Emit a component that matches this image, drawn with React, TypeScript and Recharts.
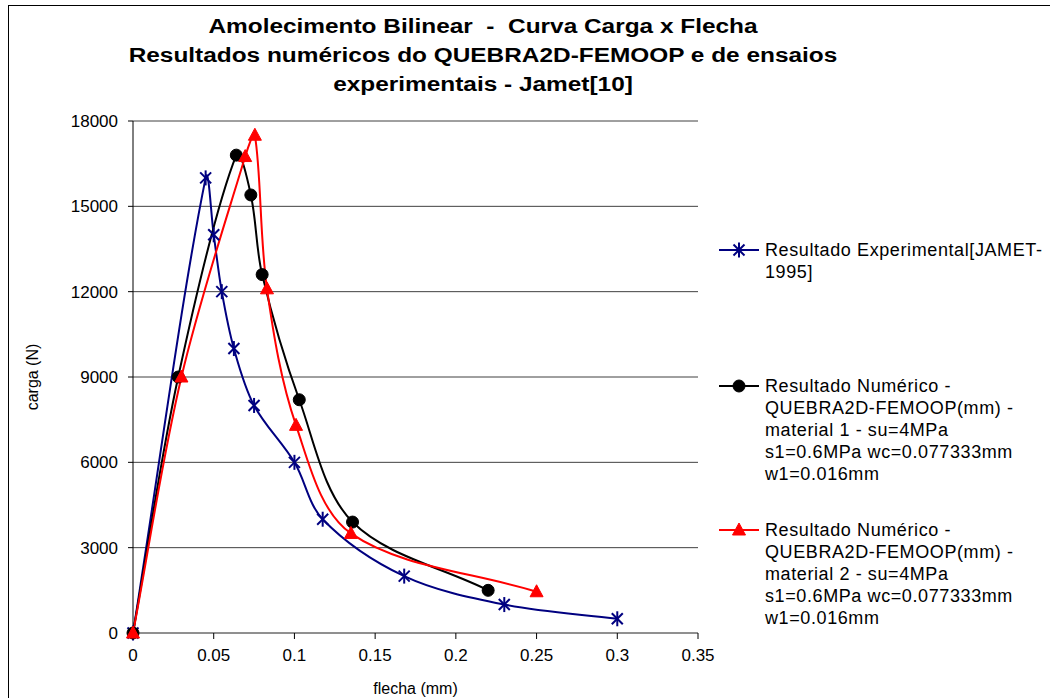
import React from 'react';
import { CartesianGrid, Legend, Line, LineChart, XAxis, YAxis } from 'recharts';

// Title lines and axis titles
const titleLines = [
  'Amolecimento Bilinear  -  Curva Carga x Flecha',
  'Resultados numéricos do QUEBRA2D-FEMOOP e de ensaios',
  'experimentais - Jamet[10]',
];
const xAxisTitle = 'flecha (mm)';
const yAxisTitle = 'carga (N)';

// Tick values
const xTicks = [0, 0.05, 0.1, 0.15, 0.2, 0.25, 0.3, 0.35];
const yTicks = [0, 3000, 6000, 9000, 12000, 15000, 18000];

// Experimental result (JAMET 1995)
const expFlecha = [0, 0.045, 0.05, 0.055, 0.0625, 0.075, 0.1, 0.1175, 0.168, 0.23, 0.3];
const expCarga = [0, 16000, 14000, 12000, 10000, 8000, 6000, 4000, 2000, 1000, 500];

// Numerical result - material 1
const mat1Flecha = [0, 0.028, 0.064, 0.073, 0.08, 0.103, 0.136, 0.22];
const mat1Carga = [0, 9000, 16800, 15400, 12600, 8200, 3900, 1500];

// Numerical result - material 2
const mat2Flecha = [0, 0.03, 0.0695, 0.0755, 0.083, 0.101, 0.135, 0.25];
const mat2Carga = [0, 9000, 16750, 17500, 12100, 7300, 3500, 1450];

// Legend labels (line breaks as in the original)
const expLabel = ['Resultado Experimental[JAMET-', '1995]'];
const mat1Label = [
  'Resultado Numérico -',
  'QUEBRA2D-FEMOOP(mm) -',
  'material 1 - su=4MPa',
  's1=0.6MPa wc=0.077333mm',
  'w1=0.016mm',
];
const mat2Label = [
  'Resultado Numérico -',
  'QUEBRA2D-FEMOOP(mm) -',
  'material 2 - su=4MPa',
  's1=0.6MPa wc=0.077333mm',
  'w1=0.016mm',
];

const toPoints = (xs: number[], ys: number[]) => xs.map((x, i) => ({ x, y: ys[i] }));

// Excel-like smoothed line: bezier segments, tangents weighted by segment length
function excelSmooth(context: any) {
  let pts: number[][] = [];
  const dist = (a: number[], b: number[]) => Math.hypot(b[0] - a[0], b[1] - a[1]);
  return {
    areaStart() {},
    areaEnd() {},
    lineStart() {
      pts = [];
    },
    point(x: number, y: number) {
      pts.push([+x, +y]);
    },
    lineEnd() {
      if (!pts.length) return;
      context.moveTo(pts[0][0], pts[0][1]);
      for (let i = 0; i < pts.length - 1; i++) {
        const p0 = pts[i - 1] || pts[i];
        const p1 = pts[i];
        const p2 = pts[i + 1];
        const p3 = pts[i + 2] || p2;
        const d01 = dist(p0, p1);
        const d12 = dist(p1, p2);
        const d23 = dist(p2, p3);
        const s1 = d12 / (d01 + d12 || 1) / 3;
        const s2 = d12 / (d12 + d23 || 1) / 3;
        const c1x = p1[0] + (p2[0] - p0[0]) * s1;
        const c1y = p1[1] + (p2[1] - p0[1]) * s1;
        const c2x = p2[0] - (p3[0] - p1[0]) * s2;
        const c2y = p2[1] - (p3[1] - p1[1]) * s2;
        context.bezierCurveTo(c1x, c1y, c2x, c2y, p2[0], p2[1]);
      }
    },
  };
}

type MarkerKind = 'star' | 'circle' | 'triangle';

function Marker({ kind, cx, cy, color }: { kind: MarkerKind; cx: number; cy: number; color: string }) {
  if (kind === 'star') {
    return (
      <g stroke={color} strokeWidth={2}>
        <line x1={cx - 5.5} y1={cy - 5.5} x2={cx + 5.5} y2={cy + 5.5} />
        <line x1={cx - 5.5} y1={cy + 5.5} x2={cx + 5.5} y2={cy - 5.5} />
        <line x1={cx} y1={cy - 7.5} x2={cx} y2={cy + 7.5} />
      </g>
    );
  }
  if (kind === 'circle') {
    return <circle cx={cx} cy={cy} r={6} fill={color} stroke={color} />;
  }
  return (
    <polygon
      points={`${cx},${cy - 7} ${cx - 6.5},${cy + 5} ${cx + 6.5},${cy + 5}`}
      fill={color}
      stroke={color}
    />
  );
}

const makeDot = (kind: MarkerKind, color: string) => (props: any) => (
  <Marker key={`${kind}-${props.index}`} kind={kind} cx={props.cx} cy={props.cy} color={color} />
);

const series = [
  { id: 'exp', data: toPoints(expFlecha, expCarga), color: '#000080', marker: 'star' as MarkerKind, label: expLabel, top: 239 },
  { id: 'mat1', data: toPoints(mat1Flecha, mat1Carga), color: '#000000', marker: 'circle' as MarkerKind, label: mat1Label, top: 375 },
  { id: 'mat2', data: toPoints(mat2Flecha, mat2Carga), color: '#ff0000', marker: 'triangle' as MarkerKind, label: mat2Label, top: 519 },
];

const FONT = '"Liberation Sans", Arial, sans-serif';

function LegendBox() {
  return (
    <div style={{ position: 'relative', width: 1050, height: 698, fontFamily: FONT }}>
      {series.map((s) => (
        <div key={s.id} style={{ position: 'absolute', left: 715, top: s.top }}>
          <svg width={48} height={22} style={{ position: 'absolute', left: 0, top: 0 }}>
            <line x1={4} y1={11} x2={44} y2={11} stroke={s.color} strokeWidth={2} />
            <Marker kind={s.marker} cx={24} cy={11} color={s.color} />
          </svg>
          <div
            style={{
              position: 'absolute',
              left: 50,
              top: 0,
              fontSize: 18,
              lineHeight: '22px',
              whiteSpace: 'pre',
              color: '#000',
              letterSpacing: 0.6,
            }}
          >
            {s.label.join('\n')}
          </div>
        </div>
      ))}
    </div>
  );
}

export default function App() {
  return (
    <div
      style={{
        position: 'fixed',
        left: 0,
        top: 0,
        width: 1050,
        height: 698,
        overflow: 'hidden',
        background: '#fff',
        fontFamily: FONT,
      }}
    >
      {/* chart area frame */}
      <div style={{ position: 'absolute', left: 8, top: 5, width: 1100, height: 800, border: '1px solid #000' }} />

      <div style={{ position: 'absolute', left: 0, top: 12, width: 966, textAlign: 'center' }}>
        {titleLines.map((t) => (
          <div
            key={t}
            style={{
              fontSize: 20,
              fontWeight: 'bold',
              lineHeight: '29px',
              whiteSpace: 'pre',
              transform: 'scaleX(1.22)',
            }}
          >
            {t}
          </div>
        ))}
      </div>

      <LineChart
        width={1050}
        height={698}
        margin={{ top: 121, right: 352, bottom: 0, left: 0 }}
        style={{ position: 'absolute', left: 0, top: 0 }}
      >
        <CartesianGrid horizontal vertical={false} stroke="#404040" />
        <XAxis
          type="number"
          dataKey="x"
          domain={[0, 0.35]}
          ticks={xTicks}
          interval={0}
          height={65}
          axisLine={{ stroke: '#808080' }}
          tickLine={{ stroke: '#000' }}
          tickSize={6}
          tickMargin={10}
          tick={{ fill: '#000', fontSize: 17, fontFamily: FONT }}
          label={{ value: xAxisTitle, position: 'insideBottom', offset: 4, fill: '#000', fontSize: 16, fontFamily: FONT }}
        />
        <YAxis
          type="number"
          dataKey="y"
          domain={[0, 18000]}
          ticks={yTicks}
          interval={0}
          width={133}
          axisLine={{ stroke: '#000' }}
          tickLine={{ stroke: '#000' }}
          tickSize={5}
          tickMargin={10}
          tick={{ fill: '#000', fontSize: 17, fontFamily: FONT }}
          label={{
            content: () => (
              <text
                x={32}
                y={377}
                transform="rotate(-90 32 377)"
                textAnchor="middle"
                dominantBaseline="central"
                fontSize={16}
                fontFamily={FONT}
                fill="#000"
              >
                {yAxisTitle}
              </text>
            ),
          }}
        />
        {series.map((s) => (
          <Line
            key={s.id}
            name={s.label.join(' ')}
            data={s.data}
            dataKey="y"
            type={excelSmooth as any}
            stroke={s.color}
            strokeWidth={2}
            dot={makeDot(s.marker, s.color)}
            activeDot={false}
            isAnimationActive={false}
          />
        ))}
        <Legend
          layout="vertical"
          align="center"
          verticalAlign="middle"
          wrapperStyle={{ left: 0, top: 0, width: 1050, height: 698 }}
          content={() => <LegendBox />}
        />
      </LineChart>
    </div>
  );
}
